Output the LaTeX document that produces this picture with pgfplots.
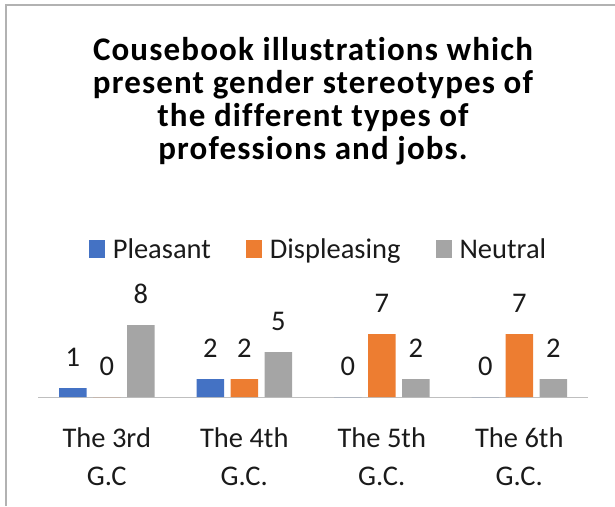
\documentclass[border=0pt]{standalone}
\usepackage{fontspec}
\setmainfont[Ligatures={NoCommon}]{Carlito}
\usepackage{pgfplots}
\pgfplotsset{compat=1.18}
\definecolor{cblue}{HTML}{4472C4}
\definecolor{corange}{HTML}{ED7D31}
\definecolor{cgray}{HTML}{A5A5A5}
\definecolor{txt}{HTML}{1A1A1A}

\pgfplotsset{sq/.style={legend image code/.code={\fill[##1] (0pt,-9pt) rectangle (16pt,9pt); \path (22pt,0pt);}}}

\begin{document}
\begin{tikzpicture}[x=1pt,y=1pt]
\useasboundingbox (0,0) rectangle (615,506);
\draw[gray!60, line width=1.2pt] (6,0) -- (6,501) -- (615,501);
\node[font=\bfseries\fontsize{33}{33}\selectfont\addfontfeature{LetterSpace=3.5}, align=center, text=black] at (313,405)
  {Cousebook illustrations which\\present gender stereotypes of\\the different types of\\professions and jobs.};
\begin{axis}[
  at={(106.75pt,109pt)}, anchor=origin,
  scale only axis, width=550pt, height=90pt,
  xmin=-0.5, xmax=3.5, ymin=0, ymax=10,
  enlargelimits=false,
  axis y line=none, axis x line*=bottom,
  x axis line style={draw=gray!50, line width=1pt},
  ytick=\empty,
  xtick={0,1,2,3},
  xticklabels={{The 3rd\\G.C},{The 4th\\G.C.},{The 5th\\G.C.},{The 6th\\G.C.}},
  xticklabel style={align=center, font=\fontsize{28.5}{38}\selectfont, text=txt, yshift=-27pt},
  major tick length=0pt,
  ybar=6.5pt, bar width=27.5pt,
  nodes near coords,
  /pgf/number format/assume math mode=true,
  nodes near coords style={font=\fontsize{28.5}{33}\selectfont, text=txt, yshift=18pt},
  clip=false,
  legend columns=3,
  legend style={draw=none, at={(0.51,1.644)}, anchor=center,
    font=\fontsize{28.5}{33}\selectfont, text=txt,
    /tikz/every even column/.append style={column sep=33pt}},
]
\addplot[fill=cblue, draw=none, sq] coordinates {(0,1) (1,2) (2,0) (3,0)};
\addplot[fill=corange, draw=none, sq] coordinates {(0,0) (1,2) (2,7) (3,7)};
\addplot[fill=cgray, draw=none, sq] coordinates {(0,8) (1,5) (2,2) (3,2)};
\legend{Pleasant, Displeasing, Neutral}
\end{axis}
\end{tikzpicture}
\end{document}
